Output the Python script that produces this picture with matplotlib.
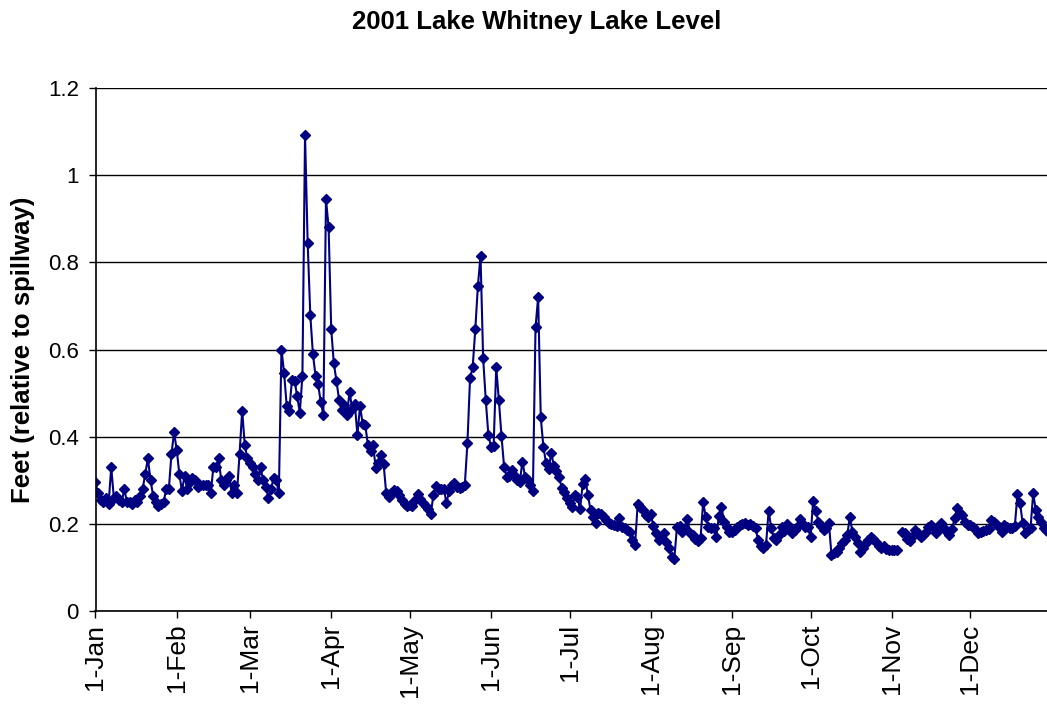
import numpy as np
import matplotlib
matplotlib.use("Agg")
from matplotlib import pyplot
import matplotlib.dates as mdates

# Daily lake level, feet relative to spillway (2001)
jan = [0.295, 0.27, 0.255, 0.25, 0.26, 0.245, 0.33, 0.26, 0.265, 0.255,
       0.25, 0.28, 0.25, 0.25, 0.245, 0.255, 0.25, 0.265, 0.28, 0.315,
       0.35, 0.30, 0.265, 0.25, 0.24, 0.245, 0.25, 0.28, 0.28, 0.36,
       0.41]
feb = [0.37, 0.315, 0.275, 0.31, 0.28, 0.295, 0.305, 0.30, 0.285, 0.29,
       0.29, 0.29, 0.29, 0.27, 0.33, 0.33, 0.35, 0.30, 0.29, 0.30,
       0.31, 0.27, 0.29, 0.27, 0.36, 0.46, 0.38, 0.35]
mar = [0.34, 0.33, 0.315, 0.30, 0.33, 0.30, 0.285, 0.26, 0.28, 0.305,
       0.30, 0.27, 0.60, 0.547, 0.47, 0.46, 0.53, 0.528, 0.493, 0.455,
       0.54, 1.092, 0.845, 0.68, 0.59, 0.54, 0.52, 0.48, 0.45, 0.945,
       0.88]
apr = [0.646, 0.568, 0.528, 0.484, 0.461, 0.473, 0.45, 0.503, 0.463, 0.475,
       0.404, 0.47, 0.43, 0.427, 0.381, 0.366, 0.381, 0.327, 0.339, 0.358,
       0.337, 0.27, 0.262, 0.27, 0.278, 0.275, 0.266, 0.255, 0.246, 0.24]
may = [0.243, 0.24, 0.255, 0.268, 0.256, 0.248, 0.24, 0.233, 0.222, 0.266,
       0.287, 0.28, 0.281, 0.281, 0.247, 0.275, 0.289, 0.293, 0.285, 0.282,
       0.285, 0.289, 0.385, 0.534, 0.559, 0.646, 0.746, 0.815, 0.58, 0.484,
       0.404]
jun = [0.377, 0.379, 0.559, 0.484, 0.402, 0.331, 0.308, 0.31, 0.324, 0.31,
       0.30, 0.297, 0.343, 0.308, 0.30, 0.289, 0.276, 0.651, 0.72, 0.444,
       0.377, 0.34, 0.325, 0.363, 0.333, 0.322, 0.308, 0.282, 0.272, 0.259]
jul = [0.247, 0.238, 0.266, 0.262, 0.233, 0.291, 0.303, 0.266, 0.232, 0.215,
       0.201, 0.226, 0.222, 0.216, 0.209, 0.203, 0.20, 0.197, 0.195, 0.213,
       0.192, 0.19, 0.186, 0.182, 0.163, 0.151, 0.245, 0.238, 0.232, 0.22,
       0.215]
aug = [0.223, 0.195, 0.178, 0.163, 0.169, 0.178, 0.159, 0.144, 0.123, 0.12,
       0.193, 0.195, 0.182, 0.19, 0.21, 0.18, 0.175, 0.165, 0.16, 0.167,
       0.249, 0.216, 0.193, 0.19, 0.19, 0.169, 0.218, 0.239, 0.205, 0.192,
       0.182]
sep = [0.182, 0.186, 0.192, 0.197, 0.20, 0.203, 0.197, 0.20, 0.195, 0.19,
       0.163, 0.149, 0.144, 0.151, 0.23, 0.19, 0.167, 0.163, 0.175, 0.192,
       0.184, 0.20, 0.19, 0.178, 0.185, 0.193, 0.21, 0.20, 0.193, 0.192]
oct_ = [0.169, 0.253, 0.23, 0.205, 0.195, 0.186, 0.19, 0.203, 0.128, 0.132,
        0.136, 0.144, 0.155, 0.163, 0.174, 0.215, 0.182, 0.169, 0.157, 0.136,
        0.144, 0.155, 0.163, 0.169, 0.165, 0.159, 0.148, 0.145, 0.149, 0.142,
        0.14]
nov = [0.14, 0.14, 0.14, np.nan, 0.182, 0.18, 0.165, 0.161, 0.172, 0.186,
       0.178, 0.17, 0.175, 0.182, 0.192, 0.197, 0.19, 0.178, 0.187, 0.203,
       0.19, 0.182, 0.174, 0.187, 0.213, 0.236, 0.225, 0.22, 0.205, 0.197]
dec = [0.197, 0.192, 0.186, 0.178, 0.182, 0.184, 0.186, 0.187, 0.209, 0.205,
       0.20, 0.193, 0.182, 0.197, 0.193, 0.19, 0.19, 0.195, 0.268, 0.247,
       0.201, 0.178, 0.185, 0.19, 0.27, 0.232, 0.216, 0.205, 0.19, 0.185,
       0.18]

level = np.concatenate([jan, feb, mar, apr, may, jun, jul, aug, sep, oct_, nov, dec])
days = np.arange('2001-01-01', '2002-01-01', dtype='datetime64[D]')
month_starts = np.arange('2001-01', '2002-01', dtype='datetime64[M]').astype('datetime64[D]')
yticks = [0, 0.2, 0.4, 0.6, 0.8, 1.0, 1.2]
ytick_labels = ["0", "0.2", "0.4", "0.6", "0.8", "1", "1.2"]

pyplot.rcParams['font.family'] = ['Liberation Sans', 'DejaVu Sans']
navy = '#000080'

fig = pyplot.figure(figsize=(10.47, 7.05), dpi=100)
# plot area runs a little past the right edge of the figure
ax = fig.add_axes([95.5/1047, 94/705, 956/1047, 523/705])
ax.plot(days, level, '-', color=navy, lw=1.5, marker='D', ms=5.5,
        mfc=navy, mec=navy)

ax.set_xlim(np.datetime64('2001-01-01'), np.datetime64('2002-01-01'))
ax.set_ylim(0, 1.2)
ax.set_yticks(yticks)
ax.set_yticklabels(ytick_labels)
ax.yaxis.grid(True, color='black', lw=1.0)
ax.set_axisbelow(True)
ax.set_xticks(month_starts)
ax.xaxis.set_major_formatter(mdates.DateFormatter('1-%b'))
pyplot.setp(ax.get_xticklabels(), rotation=90)
ax.tick_params(axis='both', direction='out', length=5, width=1, color='black')
ax.tick_params(axis='y', pad=7, labelsize=16)
ax.tick_params(axis='x', pad=4, labelsize=19)
for side in ('top', 'right'):
    ax.spines[side].set_visible(False)
for side in ('left', 'bottom'):
    ax.spines[side].set_linewidth(1.2)

fig.text(537/1047, 1 - 22/705, "2001 Lake Whitney Lake Level", ha='center',
         va='center', fontsize=18.5, fontweight='bold')
fig.text(23/1047, 1 - 350/705, "Feet (relative to spillway)", ha='center',
         va='center', rotation=90, fontsize=18.5, fontweight='bold')

pyplot.savefig("out.png", dpi=100)
